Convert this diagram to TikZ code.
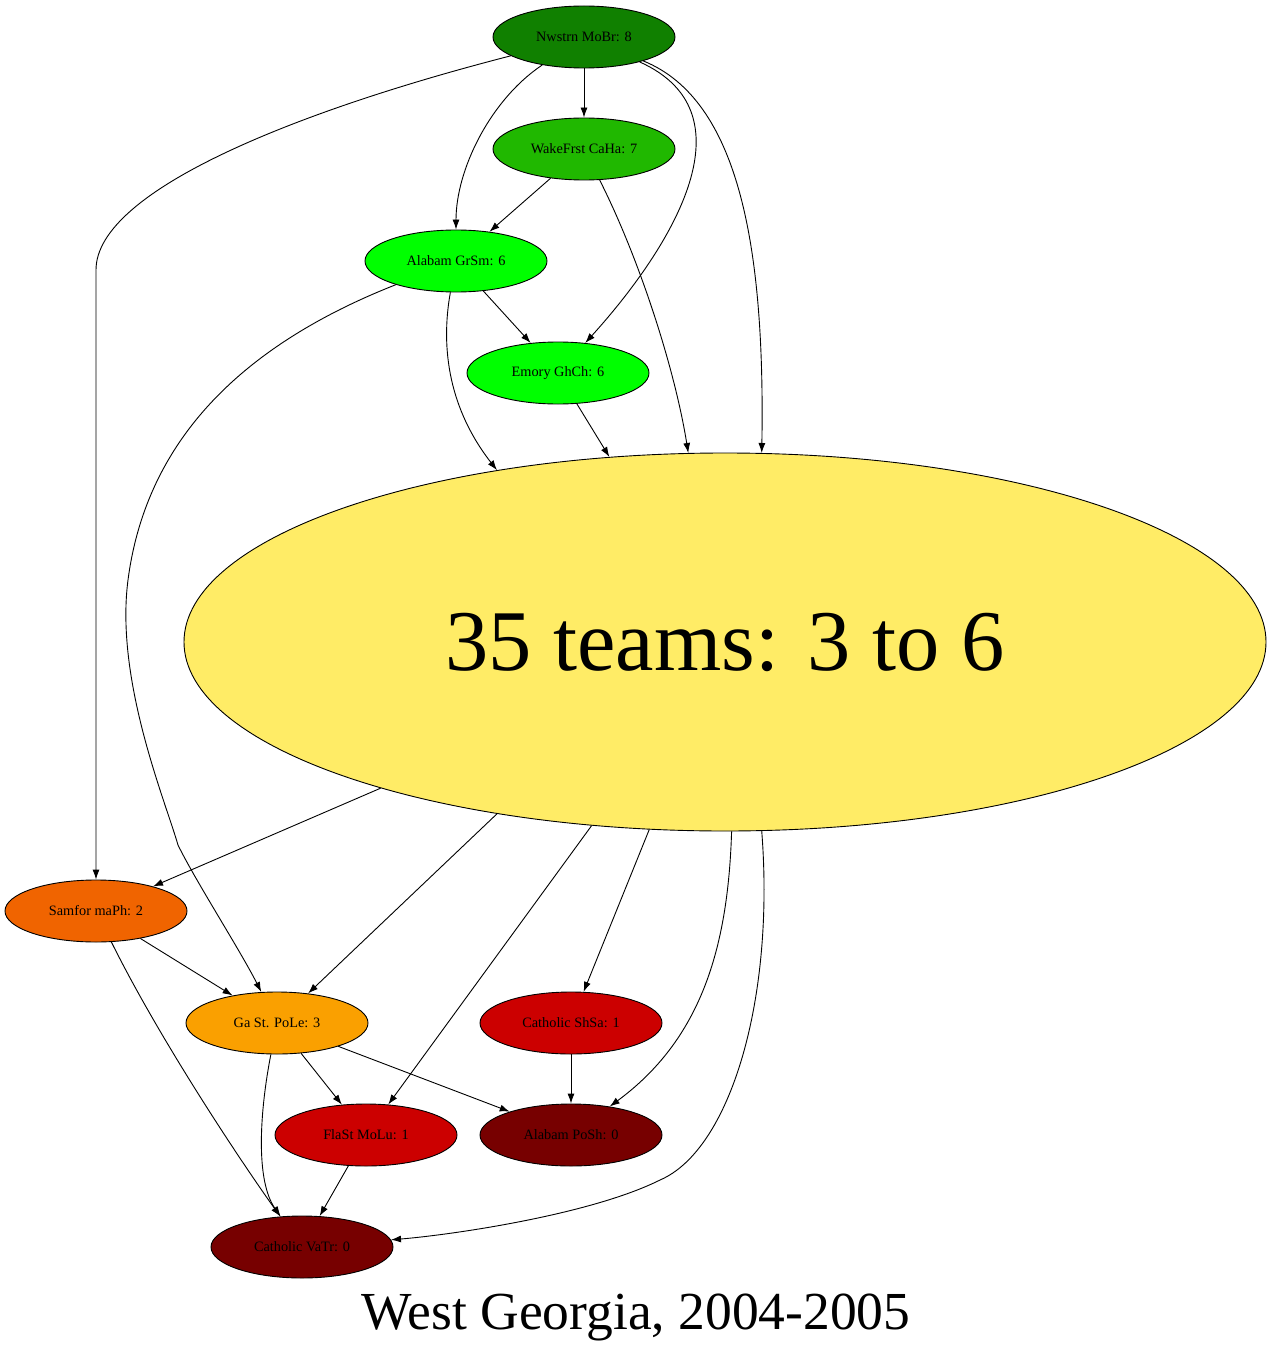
\documentclass[tikz,border=0pt]{standalone}
\usepackage{fontspec}
\setmainfont{Liberation Serif}
\usetikzlibrary{positioning,shapes.geometric,arrows.meta}
\definecolor{nwgreen}{RGB}{16,128,0}
\definecolor{wfgreen}{RGB}{32,184,0}
\definecolor{topgreen}{RGB}{0,255,0}
\definecolor{bigyellow}{RGB}{255,236,102}
\definecolor{samorange}{RGB}{240,100,0}
\definecolor{gaorange}{RGB}{250,160,0}
\definecolor{midred}{RGB}{204,0,0}
\definecolor{lowred}{RGB}{119,0,0}

\begin{document}
\begin{tikzpicture}[x=1pt,y=-1pt,line width=0.9pt,
  team/.style={ellipse,draw,inner sep=0,minimum width=182pt,minimum height=62pt,font=\fontsize{14.3}{16}\selectfont},
  edge/.style={-{Latex[length=10pt,width=7pt]}}]
\useasboundingbox[fill=white] (0,0) rectangle (1272,1356);
% teams
\node[team,fill=nwgreen] (nw) at (584,37) {Nwstrn MoBr: 8};
\node[team,fill=wfgreen] (wf) at (584,149) {WakeFrst CaHa: 7};
\node[team,fill=topgreen] (ga6) at (456,261) {Alabam GrSm: 6};
\node[team,fill=topgreen] (em) at (558,373) {Emory GhCh: 6};
\node[ellipse,draw,inner sep=0,minimum width=1082pt,minimum height=378pt,fill=bigyellow,font=\fontsize{86.5}{96}\selectfont] (big) at (725,642) {35 teams: 3 to 6};
\node[team,fill=samorange] (sam) at (96,911) {Samfor maPh: 2};
\node[team,fill=gaorange] (gast) at (277,1023) {Ga St. PoLe: 3};
\node[team,fill=midred] (cs) at (571,1023) {Catholic ShSa: 1};
\node[team,fill=midred] (fl) at (366,1135) {FlaSt MoLu: 1};
\node[team,fill=lowred] (ap) at (571,1135) {Alabam PoSh: 0};
\node[team,fill=lowred] (cv) at (302,1247) {Catholic VaTr: 0};
\node[font=\fontsize{53.5}{60}\selectfont] (title) at (636,1317) {West Georgia, 2004-2005};
% games
\draw[edge] (nw) .. controls (300,110) and (96,190) .. (96,270) -- (sam);
\draw[edge] (nw) -- (wf);
\draw[edge] (nw) .. controls (490,100) and (456,170) .. (ga6);
\draw[edge] (nw) .. controls (758,115) and (665,255) .. (em);
\draw[edge] (nw) .. controls (740,100) and (765,250) .. (big.79);
\draw[edge] (wf) -- (ga6);
\draw[edge] (wf) .. controls (640,260) and (675,370) .. (big.101);
\draw[edge] (ga6) -- (em);
\draw[edge] (ga6) .. controls (440,350) and (450,410) .. (big.143);
\draw[edge] (ga6) .. controls (230,350) and (145,450) .. (128,580) .. controls (115,680) and (165,800) .. (178,845) .. controls (195,880) and (240,950) .. (gast);
\draw[edge] (em) -- (big.122);
\draw[edge] (big.203) -- (sam);
\draw[edge] (big.217) -- (gast);
\draw[edge] (big.234) -- (fl);
\draw[edge] (big.248) -- (cs);
\draw[edge] (big.272) .. controls (728,950) and (700,1040) .. (ap);
\draw[edge] (big.281) .. controls (775,1000) and (730,1150) .. (660,1180) .. controls (590,1215) and (450,1235) .. (cv);
\draw[edge] (sam) -- (gast);
\draw[edge] (sam) .. controls (160,1040) and (240,1160) .. (cv);
\draw[edge] (gast) -- (fl);
\draw[edge] (gast) -- (ap);
\draw[edge] (gast) .. controls (260,1110) and (255,1180) .. (cv);
\draw[edge] (cs) -- (ap);
\draw[edge] (fl) -- (cv);
\end{tikzpicture}
\end{document}
